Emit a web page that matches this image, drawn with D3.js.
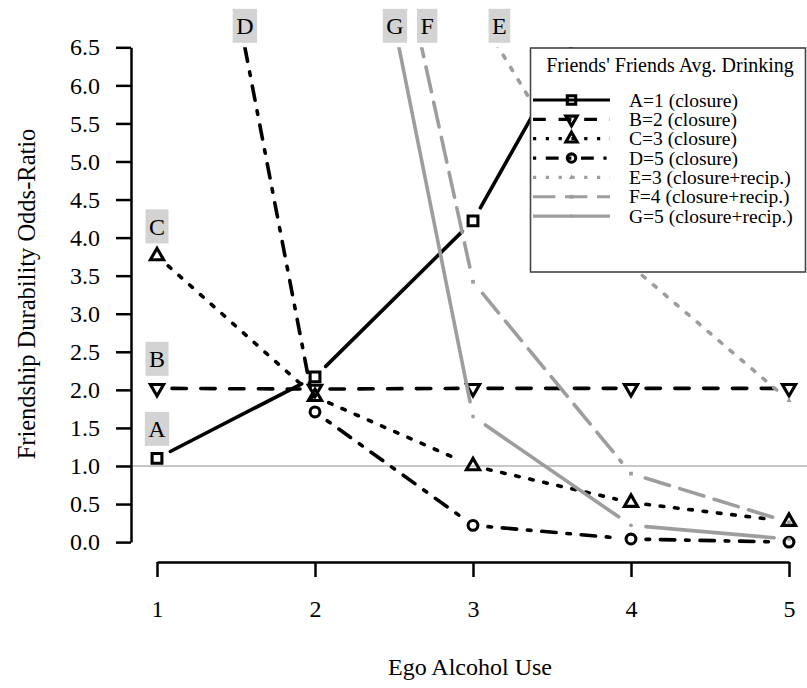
<!DOCTYPE html>
<html>
<head>
<meta charset="utf-8">
<script src="https://cdn.jsdelivr.net/npm/d3@7"></script>
<style>
  html, body { margin: 0; padding: 0; background: #ffffff; }
  svg { display: block; }
  text { font-family: "Liberation Serif", "Times New Roman", Times, serif; fill: #000; }
</style>
</head>
<body>
<svg id="chart" width="807" height="688"></svg>
<script>
// ---------------- data ----------------
const xValues = [1, 2, 3, 4, 5];
const seriesA = [1.10, 2.17, 4.22, 7.9, null];
const seriesB = [2.02, 2.01, 2.02, 2.02, 2.02];
const seriesC = [3.76, 1.91, 1.00, 0.52, 0.27];
const seriesD = [12.5, 1.71, 0.22, 0.04, 0.00];
const seriesE = [null, null, 7.05, 3.63, 1.86];
const seriesF = [null, 12.9, 3.42, 0.90, 0.26];
const seriesG = [null, 12.0, 1.65, 0.22, 0.04];
const seriesKeys = ["A", "B", "C", "D", "E", "F", "G"];
const legendLabels = ["A=1 (closure)", "B=2 (closure)", "C=3 (closure)", "D=5 (closure)",
                      "E=3 (closure+recip.)", "F=4 (closure+recip.)", "G=5 (closure+recip.)"];
const legendTitle = "Friends' Friends Avg. Drinking";
const yTicks = [0.0, 0.5, 1.0, 1.5, 2.0, 2.5, 3.0, 3.5, 4.0, 4.5, 5.0, 5.5, 6.0, 6.5];
const xTicks = [1, 2, 3, 4, 5];
const referenceValue = 1.0;
const xTitle = "Ego Alcohol Use";
const yTitle = "Friendship Durability Odds-Ratio";

// ---------------- styles ----------------
const BLACK = "#000000", GREY = "#9d9d9d";
const LW = 3.6;
const styles = {
  A: {color: BLACK, dash: null,         sym: "square",  small: false, nudge: 0},
  B: {color: BLACK, dash: [4, 4],       sym: "tridown", small: false, nudge: 0},
  C: {color: BLACK, dash: [1, 3],       sym: "triup",   small: false, nudge: 0},
  D: {color: BLACK, dash: [1, 3, 4, 3], sym: "circle",  small: false, nudge: 0},
  E: {color: GREY,  dash: [1, 3],       sym: "triup",   small: true,  nudge: 1},
  F: {color: GREY,  dash: [7, 3],       sym: "square",  small: true,  nudge: 5.5},
  G: {color: GREY,  dash: null,         sym: "circle",  small: true,  nudge: -4}
};
const seriesData = {A: seriesA, B: seriesB, C: seriesC, D: seriesD, E: seriesE, F: seriesF, G: seriesG};

const svg = d3.select("#chart");
const x = d3.scaleLinear().domain([1, 5]).range([157, 789]);
const y = d3.scaleLinear().domain([0, 6.5]).range([542.1, 47.3]);
const yAxisX = 131, xAxisY = 562;

// clip for data (top edge of the plot at 6.5)
svg.append("defs").append("clipPath").attr("id", "plotclip")
  .append("rect").attr("x", 0).attr("y", y(6.5)).attr("width", 807).attr("height", 688 - y(6.5));

// reference line at 1
svg.append("line")
  .attr("x1", yAxisX).attr("x2", 807)
  .attr("y1", y(referenceValue)).attr("y2", y(referenceValue))
  .attr("stroke", "#b4b4b4").attr("stroke-width", 1.6);

// ---------------- axes ----------------
const yAxis = d3.axisLeft(y).tickValues(yTicks).tickFormat(d3.format(".1f"))
  .tickSize(15).tickSizeOuter(0).tickPadding(16);
const gy = svg.append("g").attr("transform", `translate(${yAxisX},0)`).call(yAxis);
gy.selectAll("path, line").attr("stroke", "#000").attr("stroke-width", 2.5);
gy.selectAll("text").style("font-size", "24px").style("font-family", '"Liberation Serif", serif').attr("fill", "#000");

const xAxis = d3.axisBottom(x).tickValues(xTicks).tickFormat(d3.format("d"))
  .tickSize(15).tickSizeOuter(0).tickPadding(23);
const gx = svg.append("g").attr("transform", `translate(0,${xAxisY})`).call(xAxis);
gx.selectAll("path, line").attr("stroke", "#000").attr("stroke-width", 2.5);
gx.selectAll("text").style("font-size", "24px").style("font-family", '"Liberation Serif", serif').attr("fill", "#000");

svg.append("text").attr("x", 470).attr("y", 675).attr("text-anchor", "middle")
  .style("font-size", "24px").text(xTitle);
svg.append("text").attr("transform", "translate(35,294) rotate(-90)").attr("text-anchor", "middle")
  .style("font-size", "24.5px").text(yTitle);

// ---------------- symbols ----------------
function symbolPath(sym, cx, cy, xc) {
  if (sym === "square") {
    return `M${cx - xc},${cy - xc}H${cx + xc}V${cy + xc}H${cx - xc}Z`;
  }
  if (sym === "circle") {
    return `M${cx - xc},${cy}A${xc},${xc} 0 1 0 ${cx + xc},${cy}A${xc},${xc} 0 1 0 ${cx - xc},${cy}Z`;
  }
  const r = 1.5551 * xc, h = 1.3468 * xc, yc = 0.7776 * xc;
  if (sym === "triup") {
    return `M${cx},${cy - r}L${cx + h},${cy + yc}L${cx - h},${cy + yc}Z`;
  }
  return `M${cx},${cy + r}L${cx + h},${cy - yc}L${cx - h},${cy - yc}Z`;
}
function drawSymbol(g, st, cx, cy, size) {
  if (st.small) {
    g.append("path").attr("d", symbolPath(st.sym, cx, cy, 1.9))
      .attr("fill", st.color).attr("stroke", "none");
  } else {
    g.append("path").attr("d", symbolPath(st.sym, cx, cy, size))
      .attr("fill", "none").attr("stroke", st.color).attr("stroke-width", 3.1)
      .attr("stroke-linejoin", "miter");
  }
}

// ---------------- series (type = "b": segments with gaps around points) ----------------
const GAP = 15;
const plot = svg.append("g").attr("clip-path", "url(#plotclip)");
seriesKeys.forEach(k => {
  const vals = seriesData[k], st = styles[k];
  const g = plot.append("g");
  for (let i = 0; i < vals.length - 1; i++) {
    if (vals[i] == null || vals[i + 1] == null) continue;
    const x1 = x(xValues[i]), y1 = y(vals[i]), x2 = x(xValues[i + 1]), y2 = y(vals[i + 1]);
    const L = Math.hypot(x2 - x1, y2 - y1);
    if (L <= 2 * GAP) continue;
    const ux = (x2 - x1) / L, uy = (y2 - y1) / L;
    g.append("line")
      .attr("x1", x1 + ux * GAP).attr("y1", y1 + uy * GAP)
      .attr("x2", x2 - ux * GAP).attr("y2", y2 - uy * GAP)
      .attr("stroke", st.color).attr("stroke-width", LW).attr("stroke-linecap", "round")
      .attr("stroke-dasharray", st.dash ? st.dash.map(v => v * LW).join(",") : null);
  }
  vals.forEach((v, i) => {
    if (v == null) return;
    drawSymbol(g, st, x(xValues[i]), y(v), 4.9);
  });
});

// ---------------- series labels ----------------
function labelBox(key, cx, cy) {
  const t = svg.append("text").attr("x", cx).attr("y", cy + 8.5).attr("text-anchor", "middle")
    .style("font-size", "24px").text(key);
  const w = t.node().getComputedTextLength() + 7;
  svg.insert("rect", () => t.node())
    .attr("x", cx - w / 2).attr("y", cy - 17).attr("width", w).attr("height", 34)
    .attr("fill", "#d3d3d3");
}
const topVal = 6.5;
seriesKeys.forEach(k => {
  const vals = seriesData[k];
  const first = vals.findIndex(v => v != null);
  if (vals[first] <= topVal) {
    labelBox(k, x(xValues[first]), y(vals[first]) - 29.5);
  } else {
    for (let i = first; i < vals.length - 1; i++) {
      if (vals[i] > topVal && vals[i + 1] != null && vals[i + 1] <= topVal) {
        const t = (vals[i] - topVal) / (vals[i] - vals[i + 1]);
        const xv = xValues[i] + t * (xValues[i + 1] - xValues[i]);
        labelBox(k, x(xv) + styles[k].nudge, y(topVal) - 21.5);
        break;
      }
    }
  }
});

// ---------------- legend ----------------
const lg = svg.append("g");
lg.append("rect").attr("x", 530.5).attr("y", 48).attr("width", 275).attr("height", 224)
  .attr("fill", "#fff").attr("stroke", "#444").attr("stroke-width", 1.6);
lg.append("text").attr("x", 670).attr("y", 72).attr("text-anchor", "middle")
  .style("font-size", "20px").text(legendTitle);
seriesKeys.forEach((k, i) => {
  const st = styles[k];
  const cy = 100 + i * 19.35;
  lg.append("line").attr("x1", 533).attr("x2", 610).attr("y1", cy).attr("y2", cy)
    .attr("stroke", st.color).attr("stroke-width", 3.2).attr("stroke-linecap", "butt")
    .attr("stroke-dasharray", st.dash ? st.dash.map(v => v * 3.2).join(",") : null);
  drawSymbol(lg, st, 571.5, cy, 4.2);
  lg.append("text").attr("x", 629).attr("y", cy + 6.5).style("font-size", "19.5px").text(legendLabels[i]);
});
</script>
</body>
</html>
